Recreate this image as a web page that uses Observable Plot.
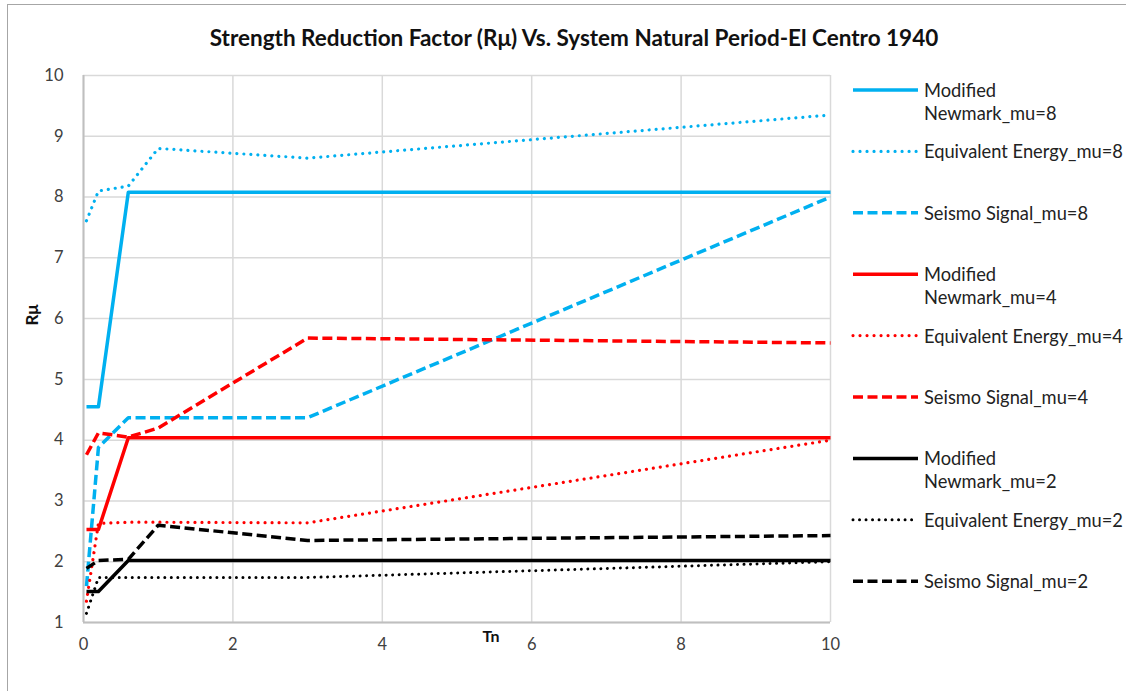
<!DOCTYPE html>
<html>
<head>
<meta charset="utf-8">
<script src="https://cdn.jsdelivr.net/npm/d3@7"></script>
<script src="https://cdn.jsdelivr.net/npm/@observablehq/plot@0.6"></script>
<style>
  html, body { margin: 0; padding: 0; background: #fff; overflow: hidden; }
  #page { position: relative; width: 1126px; height: 691px; overflow: hidden; font-family: Lato, "Open Sans", sans-serif; }
  #border { position: absolute; left: 7px; top: 4px; width: 1300px; height: 900px; border: 1.5px solid #a6a6a6; box-sizing: border-box; }
  #title { position: relative; width: 1126px; height: 34px; padding-top: 26px; padding-left: 11px; box-sizing: content-box; text-align: center; font-size: 22.5px; line-height: 24px; font-weight: bold; color: #111; white-space: nowrap; }
  #chart { position: relative; }
  #legend { position: absolute; left: 0; top: 0; }
</style>
</head>
<body>
<div id="page">
  <div id="border"></div>
  <div id="title">Strength Reduction Factor (Rμ) Vs. System Natural Period-El Centro 1940</div>
  <div id="chart"></div>
  <svg id="legend" width="1126" height="691"></svg>
</div>
<script>
// ---- data ----
const T = [0.04, 0.2, 0.6, 1, 3, 10];

const newmark8 = [4.55, 4.55, 8.08, 8.08, 8.08, 8.08];
const energy8  = [7.61, 8.10, 8.18, 8.80, 8.64, 9.35];
const seismo8  = [1.60, 3.88, 4.37, 4.37, 4.37, 8.00];

const newmark4 = [2.53, 2.53, 4.04, 4.04, 4.04, 4.04];
const energy4  = [1.35, 2.63, 2.65, 2.65, 2.64, 4.00];
const seismo4  = [3.76, 4.12, 4.05, 4.20, 5.68, 5.60];

const newmark2 = [1.51, 1.51, 2.02, 2.02, 2.02, 2.02];
const energy2  = [1.15, 1.74, 1.74, 1.74, 1.74, 2.00];
const seismo2  = [1.89, 2.02, 2.04, 2.60, 2.35, 2.43];

const seriesNames = [
  "Modified Newmark_mu=8", "Equivalent Energy_mu=8", "Seismo Signal_mu=8",
  "Modified Newmark_mu=4", "Equivalent Energy_mu=4", "Seismo Signal_mu=4",
  "Modified Newmark_mu=2", "Equivalent Energy_mu=2", "Seismo Signal_mu=2"
];
const seriesValues = [newmark8, energy8, seismo8, newmark4, energy4, seismo4, newmark2, energy2, seismo2];
const legendLines = [
  ["Modified", "Newmark_mu=8"], ["Equivalent Energy_mu=8"], ["Seismo Signal_mu=8"],
  ["Modified", "Newmark_mu=4"], ["Equivalent Energy_mu=4"], ["Seismo Signal_mu=4"],
  ["Modified", "Newmark_mu=2"], ["Equivalent Energy_mu=2"], ["Seismo Signal_mu=2"]
];
const xTicks = [0, 2, 4, 6, 8, 10];
const yTicks = [1, 2, 3, 4, 5, 6, 7, 8, 9, 10];

// ---- styles ----
const BLUE = "#00B0F0", RED = "#FF0000", BLACK = "#000000";
const styles = [
  {stroke: BLUE, width: 3.5, dash: null, cap: "butt"},
  {stroke: BLUE, width: 3.2, dash: "0.01,7", cap: "round"},
  {stroke: BLUE, width: 3.5, dash: "10,4.5", cap: "butt"},
  {stroke: RED, width: 3.5, dash: null, cap: "butt"},
  {stroke: RED, width: 3.2, dash: "0.01,7", cap: "round"},
  {stroke: RED, width: 3.5, dash: "10,4.5", cap: "butt"},
  {stroke: BLACK, width: 3.5, dash: null, cap: "butt"},
  {stroke: BLACK, width: 3, dash: "0.01,6.5", cap: "round"},
  {stroke: BLACK, width: 3.5, dash: "10,4.5", cap: "butt"}
];

const table = seriesNames.map((name, i) => T.map((t, j) => ({series: name, T: t, R: seriesValues[i][j]})));

const fontFam = "Lato, 'Open Sans', sans-serif";

const chart = Plot.plot({
  width: 1126,
  height: 631,
  marginLeft: 83,
  marginRight: 296,
  marginTop: 15,
  marginBottom: 69,
  style: {fontFamily: fontFam, fontSize: "16px", color: "#333", background: "transparent", overflow: "visible"},
  x: {domain: [0, 10]},
  y: {domain: [1, 10]},
  marks: [
    Plot.gridX(xTicks, {stroke: "#d9d9d9", strokeOpacity: 1, strokeWidth: 1.5}),
    Plot.gridY(yTicks, {stroke: "#d9d9d9", strokeOpacity: 1, strokeWidth: 1.5}),
    Plot.ruleX([0], {stroke: "#bfbfbf", strokeWidth: 2}),
    Plot.ruleY([1], {stroke: "#bfbfbf", strokeWidth: 2}),
    Plot.axisX(xTicks, {tickSize: 0, tickPadding: 16, label: null, fill: "#404040", tickFormat: d => String(d), fontSize: 16.5}),
    Plot.axisY(yTicks, {tickSize: 0, tickPadding: 20, label: null, fill: "#404040", tickFormat: d => String(d), fontSize: 16.5}),
    ...table.map((rows, i) => Plot.line(rows, {
      x: "T", y: "R",
      stroke: styles[i].stroke,
      strokeWidth: styles[i].width,
      strokeDasharray: styles[i].dash,
      strokeLinecap: styles[i].cap,
      strokeLinejoin: "round"
    })),
    Plot.text(["Tn"], {frameAnchor: "bottom", dx: 34, dy: 19, fontWeight: "bold", fontSize: 16, fill: "#111"}),
    Plot.text(["Rμ"], {frameAnchor: "left", dx: -51, dy: -34, rotate: -90, textAnchor: "middle", fontWeight: "bold", fontSize: 17, fill: "#111"})
  ]
});
document.getElementById("chart").appendChild(chart);

// ---- legend ----
const leg = d3.select("#legend");
const legTop = 90, legStep = 61.4, sx0 = 853, sx1 = 918, tx = 924;
legendLines.forEach((lines, i) => {
  const y = legTop + i * legStep;
  const s = styles[i];
  leg.append("line")
    .attr("x1", sx0).attr("x2", sx1).attr("y1", y).attr("y2", y)
    .attr("stroke", s.stroke).attr("stroke-width", s.width)
    .attr("stroke-dasharray", s.dash).attr("stroke-linecap", s.cap);
  const t = leg.append("text")
    .attr("x", tx).attr("y", y)
    .attr("font-family", fontFam).attr("font-size", 18.3).attr("fill", "#222")
    .attr("dominant-baseline", "central");
  lines.forEach((ln, k) => {
    t.append("tspan").attr("x", tx).attr("dy", k === 0 ? 0 : 22.5).text(ln);
  });
});
</script>
</body>
</html>
